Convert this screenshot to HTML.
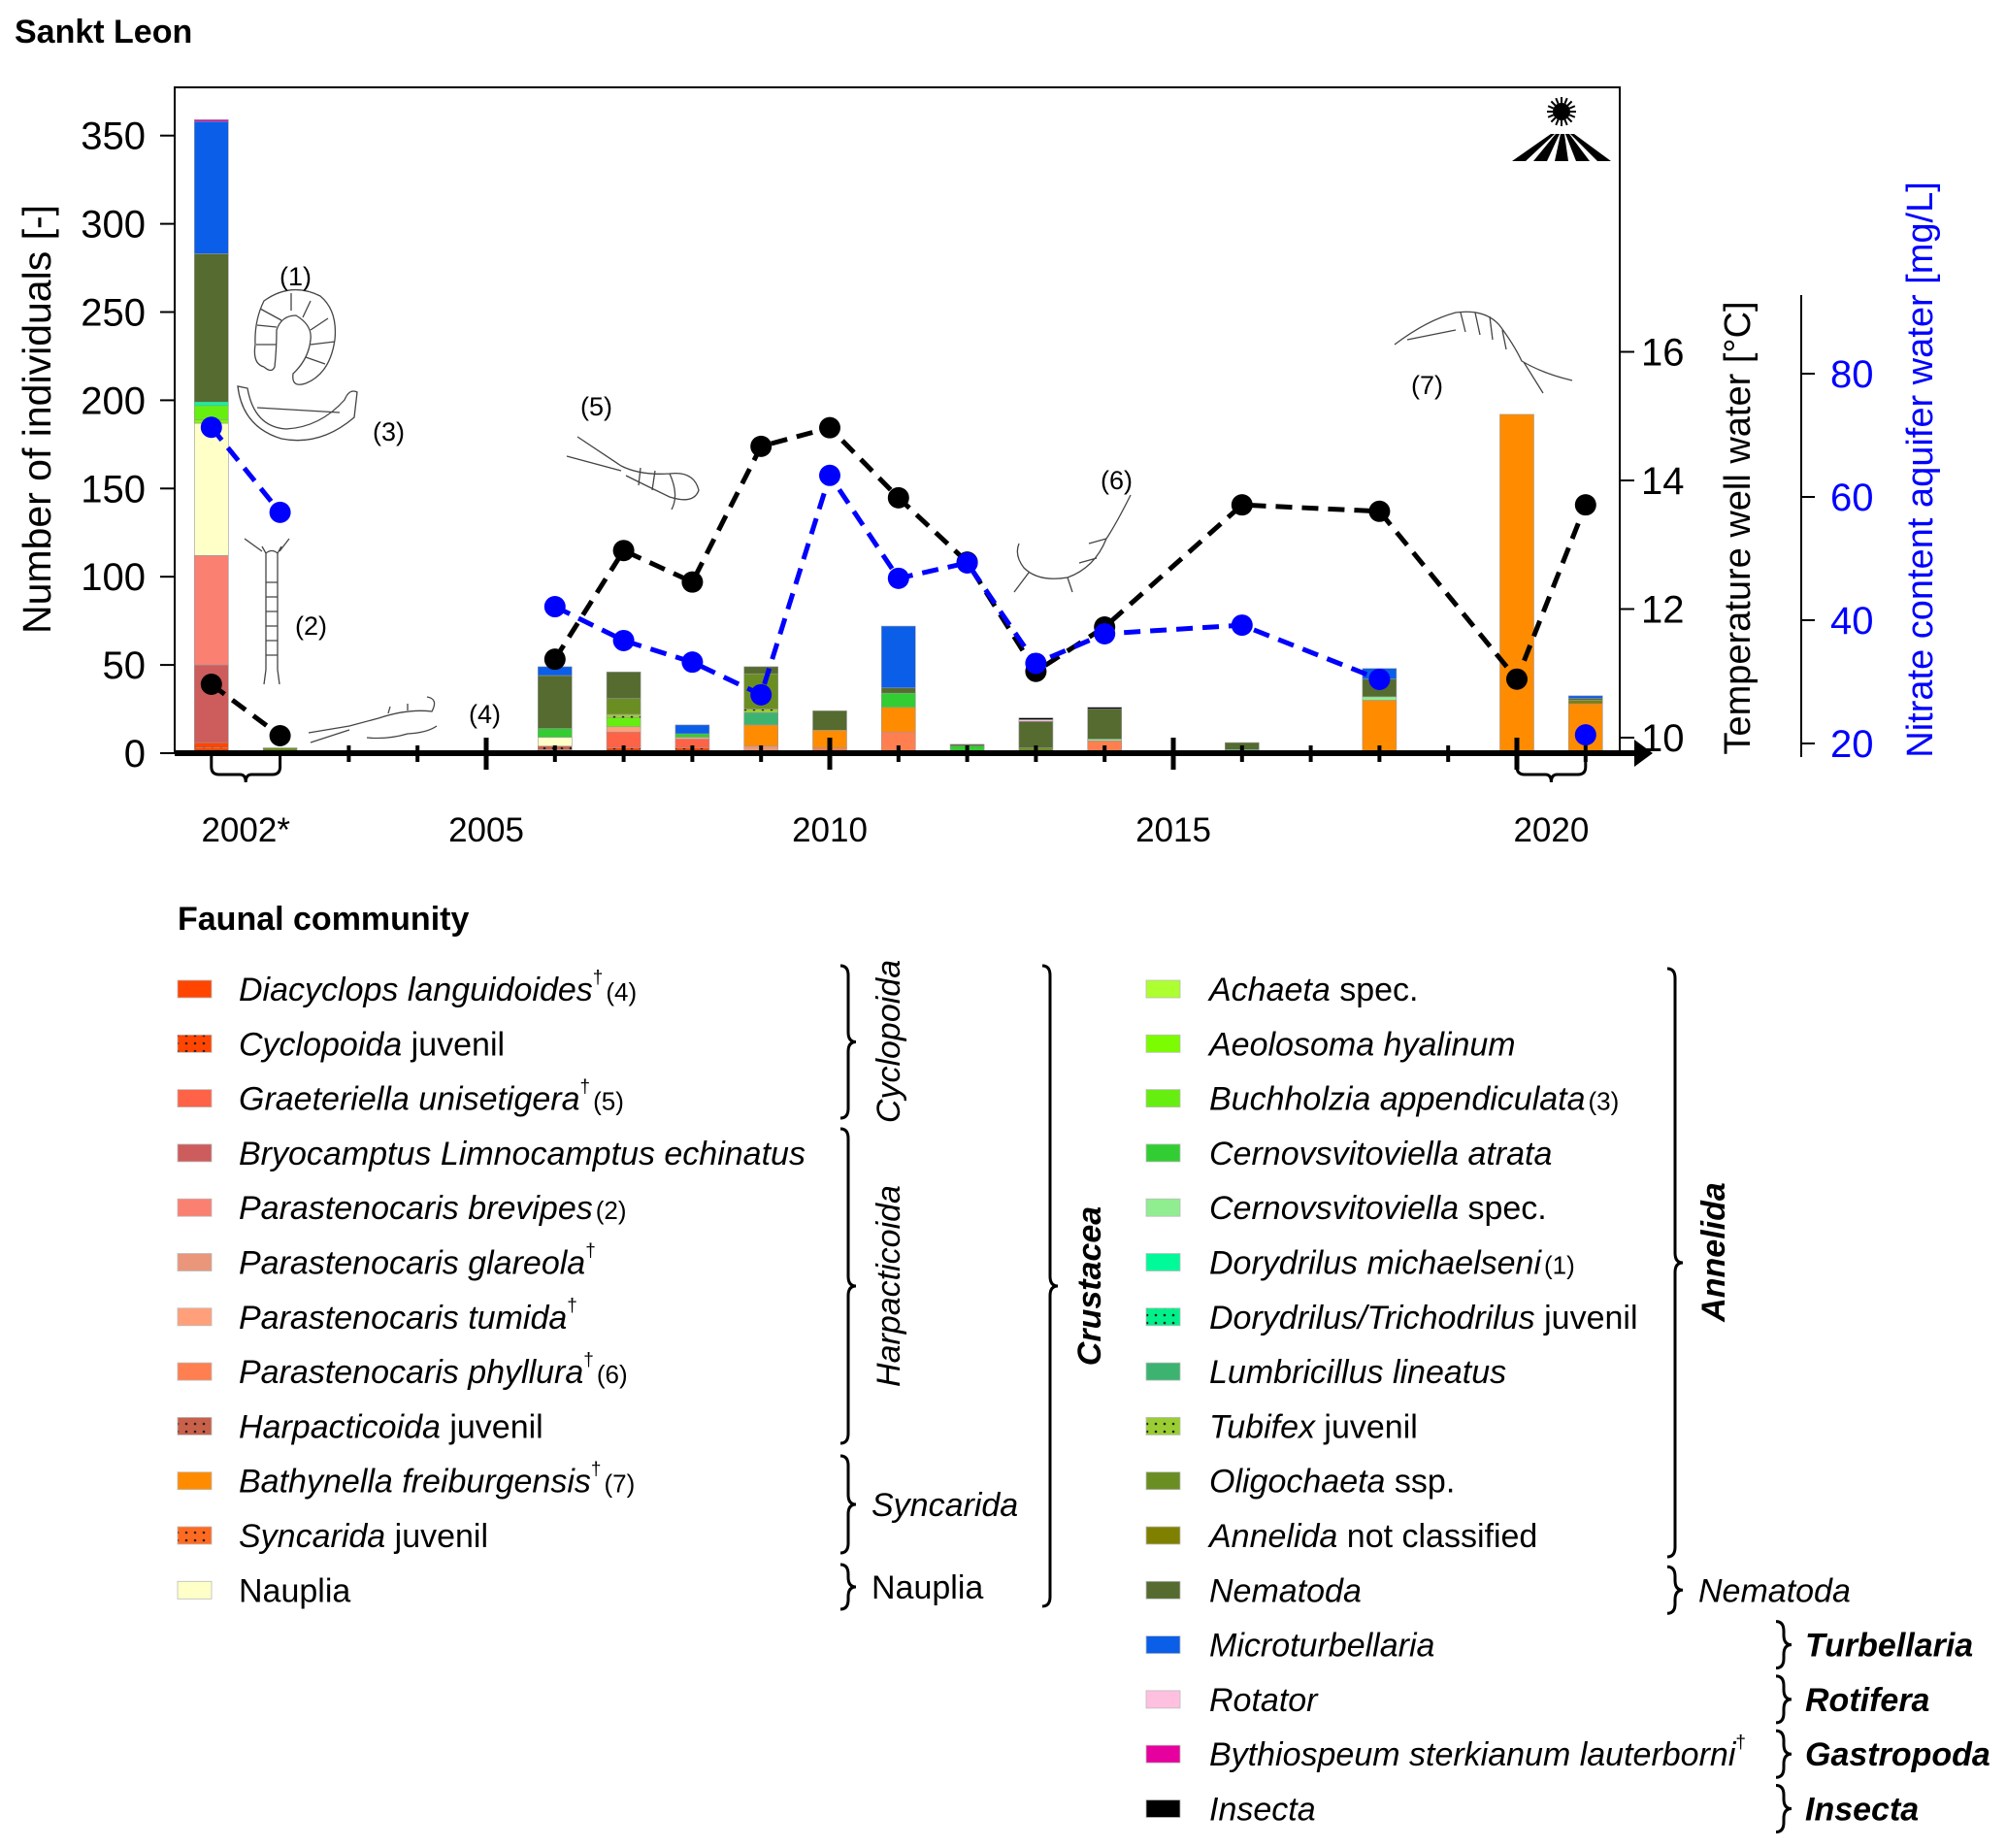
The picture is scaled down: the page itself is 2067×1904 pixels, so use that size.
<!DOCTYPE html>
<html><head><meta charset="utf-8"><style>
html,body{margin:0;padding:0;background:#fff;}
svg{display:block;font-family:"Liberation Sans",Arial,sans-serif;}
</style></head><body>
<svg id="chart" xmlns="http://www.w3.org/2000/svg" width="2067" height="1904" viewBox="0 0 2067 1904">
<defs>
<pattern id="dotRed" width="9" height="8" patternUnits="userSpaceOnUse"><rect width="9" height="8" fill="#ff4500"/><circle cx="3" cy="3" r="1.3" fill="#222"/></pattern>
<pattern id="dotHarp" width="9" height="8" patternUnits="userSpaceOnUse"><rect width="9" height="8" fill="#c8604a"/><circle cx="3" cy="3" r="1.3" fill="#222"/></pattern>
<pattern id="dotSync" width="9" height="8" patternUnits="userSpaceOnUse"><rect width="9" height="8" fill="#ff6a20"/><circle cx="3" cy="3" r="1.3" fill="#222"/></pattern>
<pattern id="dotDory" width="9" height="8" patternUnits="userSpaceOnUse"><rect width="9" height="8" fill="#00f08a"/><circle cx="3" cy="3" r="1.3" fill="#222"/></pattern>
<pattern id="dotTubi" width="9" height="8" patternUnits="userSpaceOnUse"><rect width="9" height="8" fill="#9acd32"/><circle cx="3" cy="3" r="1.3" fill="#222"/></pattern>
</defs>
<text x="15" y="44" font-size="34" font-weight="bold">Sankt Leon</text>
<g id="plot"></g>
<g id="legend"></g>
</svg>
<script>
// ---- data ----
const years = [2001, 2002, 2006, 2007, 2008, 2009, 2010, 2011, 2012, 2013, 2014, 2016, 2018, 2020, 2021];
const temperature = [10.83, 10.03, 11.22, 12.91, 12.42, 14.53, 14.82, 13.73, 12.73, 11.03, 11.72, 13.62, 13.52, 10.91, 13.62];
const nitrate = [71.3, 57.5, 42.2, 36.7, 33.2, 27.9, 63.5, 46.8, 49.3, 33.0, 37.8, 39.2, 30.4, null, 21.4];
const yTicks = [0, 50, 100, 150, 200, 250, 300, 350];
const tempTicks = [10, 12, 14, 16];
const nitrateTicks = [20, 40, 60, 80];
const xLabels = ["2002*", "2005", "2010", "2015", "2020"];
const xLabelYears = [2001.5, 2005, 2010, 2015, 2020.5];

const diacyclops   = [3,0,0,0,0,0,0,0,0,0,0,0,0,0,0];
const cyclopoidaJuv= [3,0,0,3,3,0,0,0,0,0,0,0,0,0,0];
const graeteriella = [0,0,0,9,5,0,0,0,0,0,0,0,0,0,0];
const bryocamptus  = [44,0,0,0,0,0,0,0,0,0,0,0,0,0,0];
const brevipes     = [62,0,0,0,0,0,0,0,0,0,0,0,0,0,0];
const glareola     = [0,1,2,0,0,4,0,0,0,0,0,0,0,0,0];
const tumida       = [0,0,0,3,1,0,0,0,0,0,0,0,0,0,0];
const phyllura     = [0,0,0,0,0,0,3,12,0,0,7,0,0,0,0];
const harpJuv      = [0,0,2,0,0,0,0,0,0,0,0,0,0,0,0];
const bathynella   = [0,0,0,0,0,12,10,14,0,1,0,0,30,192,28];
const syncaridaJuv = [0,0,0,0,0,0,0,0,0,0,0,0,0,0,0];
const nauplia      = [75,0,5,0,0,0,0,0,0,0,0,0,0,0,0];
const achaeta      = [0,0,0,0,0,0,0,0,0,0,0,0,0,0,0];
const aeolosoma    = [2,0,0,0,0,0,0,0,0,0,0,0,0,0,0];
const buchholzia   = [8,0,0,5,0,0,0,0,0,0,0,0,0,0,0];
const cernAtrata   = [0,0,5,0,2,0,0,8,4,0,0,0,0,0,0];
const cernSpec     = [0,0,0,0,0,0,0,0,0,0,1,1,2,0,0];
const doryMich     = [2,0,0,0,0,0,0,0,0,0,0,0,0,0,0];
const doryJuv      = [0,0,0,0,0,0,0,0,0,0,0,1,0,0,0];
const lumbricillus = [0,0,0,0,0,7,0,0,0,0,0,0,0,0,0];
const tubifex      = [0,0,0,2,0,2,0,0,0,0,0,0,0,0,0];
const oligochaeta  = [0,2,0,9,0,20,0,0,0,2,0,0,0,0,0];
const annelidaNC   = [0,0,0,0,0,0,0,0,0,0,0,0,0,0,2];
const nematoda     = [84,0,30,15,0,4,11,3,1,15,17,4,10,0,1];
const microturb    = [75,0,5,0,5,0,0,35,0,0,0,0,6,0,1.5];
const rotator      = [0,0,0,0,0,0,0,0,0,1,0,0,0,0,0];
const bythiospeum  = [1,0,0,0,0,0,0,0,0,0,0,0,0,0,0];
const insecta      = [0,0,0,0,0,0,0,0,0,1,1,0,0,0,0];

const seriesValues = [diacyclops,cyclopoidaJuv,graeteriella,bryocamptus,brevipes,glareola,tumida,phyllura,harpJuv,bathynella,syncaridaJuv,nauplia,achaeta,aeolosoma,buchholzia,cernAtrata,cernSpec,doryMich,doryJuv,lumbricillus,tubifex,oligochaeta,annelidaNC,nematoda,microturb,rotator,bythiospeum,insecta];
const seriesKeys = ["diacyclops","cyclopoida-juvenil","graeteriella","bryocamptus","parastenocaris-brevipes","parastenocaris-glareola","parastenocaris-tumida","parastenocaris-phyllura","harpacticoida-juvenil","bathynella","syncarida-juvenil","nauplia","achaeta","aeolosoma","buchholzia","cernovsvitoviella-atrata","cernovsvitoviella-spec","dorydrilus-michaelseni","dorydrilus-juvenil","lumbricillus","tubifex-juvenil","oligochaeta","annelida-nc","nematoda","microturbellaria","rotator","bythiospeum","insecta"];
const seriesFills = ["#ff4500","url(#dotRed)","#ff6347","#cd5c5c","#fa8072","#e9967a","#ffa07a","#ff7f50","url(#dotHarp)","#ff8c00","url(#dotSync)","#ffffc8","#adff2f","#7cfc00","#66ee11","#32cd32","#90ee90","#00fa9a","url(#dotDory)","#3cb371","url(#dotTubi)","#6b8e23","#808000","#556b2f","#0a5ee8","#ffc0e0","#e6009e","#000000"];

// ---- helpers ----
const NS = "http://www.w3.org/2000/svg";
function mk(tag, attrs, parent){ const e=document.createElementNS(NS,tag); for(const k in attrs) e.setAttribute(k,attrs[k]); parent.appendChild(e); return e; }
const plot = document.getElementById('plot');
const legend = document.getElementById('legend');
const X0=180, X1=1669, BASE=776;
function xs(yr){ return 501 + (yr-2005)*70.8; }
function yc(v){ return BASE - v*1.818; }
function yt(t){ return 760 - (t-10)*66.25; }
function yn(n){ return 766 - (n-20)*6.35; }

let e;
e = mk('rect',{x:X0,y:90,width:X1-X0,height:BASE-90,fill:'none',stroke:'#000','stroke-width':2},plot);



// bars
years.forEach((yr,i)=>{
  let cum=0;
  const g = mk('g',{},plot);
  
  
  seriesValues.forEach((arr,s)=>{
    const v=arr[i]; if(!v) return;
    const r = mk('rect',{x:xs(yr)-17.5,y:yc(cum+v),width:35,height:yc(cum)-yc(cum+v),fill:seriesFills[s],stroke:'#999','stroke-width':0.6},g);
    
    
    cum+=v;
  });
});

// y-axis left
yTicks.forEach(t=>{
  e = mk('line',{x1:165,x2:X0,y1:yc(t),y2:yc(t),stroke:'#000','stroke-width':2},plot);
  
  
  e = mk('text',{x:150,y:yc(t)+14,'font-size':40,'text-anchor':'end'},plot);
  e.textContent=t;
  
  
});
e = mk('text',{x:0,y:0,'font-size':41,'text-anchor':'middle',transform:'translate(52,432) rotate(-90)'},plot);
e.textContent='Number of individuals [-]';



// temperature axis
tempTicks.forEach(t=>{
  e = mk('line',{x1:X1,x2:X1+15,y1:yt(t),y2:yt(t),stroke:'#000','stroke-width':2},plot);
  
  
  e = mk('text',{x:X1+22,y:yt(t)+14,'font-size':40},plot);
  e.textContent=t;
  
  
});
e = mk('text',{x:0,y:0,'font-size':38,'text-anchor':'middle',transform:'translate(1803,544) rotate(-90)'},plot);
e.textContent='Temperature well water [°C]';



// nitrate axis
e = mk('line',{x1:1856,x2:1856,y1:304,y2:780,stroke:'#000','stroke-width':2},plot);


nitrateTicks.forEach(t=>{
  e = mk('line',{x1:1856,x2:1870,y1:yn(t),y2:yn(t),stroke:'#000','stroke-width':2},plot);
  
  
  e = mk('text',{x:1886,y:yn(t)+14,'font-size':40,fill:'#0000ff'},plot);
  e.textContent=t;
  
  
});
e = mk('text',{x:0,y:0,'font-size':38,'text-anchor':'middle',fill:'#0000ff',transform:'translate(1991,484) rotate(-90)'},plot);
e.textContent='Nitrate content aquifer water [mg/L]';



// x-axis
e = mk('line',{x1:X0,x2:1688,y1:BASE,y2:BASE,stroke:'#000','stroke-width':6},plot);


e = mk('path',{d:'M1684 762 L1703 776 L1684 790 Z',fill:'#000'},plot);


for(let yr=2003; yr<=2021; yr++){
  const major = yr%5===0;
  e = mk('line',{x1:xs(yr),x2:xs(yr),y1:major?760:768,y2:major?793:785,stroke:'#000','stroke-width':major?5:4},plot);
  
  
}
xLabels.forEach((lb,i)=>{
  e = mk('text',{x:xs(xLabelYears[i]),y:867,'font-size':35,'text-anchor':'middle'},plot);
  e.textContent=lb;
  
  
});
[[2001,2002],[2020,2021]].forEach(p=>{
  const a=xs(p[0]), b=xs(p[1]), m=(a+b)/2;
  e = mk('path',{d:`M${a} 778 L${a} 790 Q${a} 798 ${a+8} 798 L${m-6} 798 Q${m} 798 ${m} 806 Q${m} 798 ${m+6} 798 L${b-8} 798 Q${b} 798 ${b} 790 L${b} 778`,fill:'none',stroke:'#000','stroke-width':3},plot);
  
  
});

// lines: split on missing values and on long sampling gaps
function drawLine(vals, scale, color, key){
  const segs=[]; let cur=[]; let prevYr=null;
  vals.forEach((v,i)=>{
    if(v===null){ if(cur.length) segs.push(cur); cur=[]; prevYr=null; return; }
    if(prevYr!==null && years[i]-prevYr>3){ segs.push(cur); cur=[]; }
    cur.push([xs(years[i]),scale(v)]); prevYr=years[i];
  });
  if(cur.length) segs.push(cur);
  segs.forEach((pts,si)=>{
    if(pts.length<2) return;
    const l = mk('polyline',{points:pts.map(p=>p.join(',')).join(' '),fill:'none',stroke:color,'stroke-width':5,'stroke-dasharray':'17 10'},plot);
    
    
  });
  vals.forEach((v,i)=>{
    if(v===null) return;
    const c = mk('circle',{cx:xs(years[i]),cy:scale(v),r:11,fill:color},plot);
    
    
  });
}
drawLine(temperature, yt, '#000000', 'temperature');
drawLine(nitrate, yn, '#0000ff', 'nitrate');

// sun/field icon
const sun = mk('g',{},plot);


mk('circle',{cx:1609,cy:115,r:9,fill:'#000'},sun);
for(let k=0;k<16;k++){const a=k*Math.PI/8; mk('line',{x1:1609+Math.cos(a)*9,y1:115+Math.sin(a)*9,x2:1609+Math.cos(a)*15,y2:115+Math.sin(a)*15,stroke:'#000','stroke-width':2},sun);}
mk('path',{d:'M1558 166 L1598 138 L1602 138 L1572 166 Z M1580 166 L1603 138 L1607 138 L1594 166 Z M1602 166 L1608 138 L1612 138 L1616 166 Z M1624 166 L1613 138 L1617 138 L1638 166 Z M1646 166 L1618 138 L1622 138 L1660 166 Z',fill:'#000'},sun);

// organism sketches
const sk = {fill:'none',stroke:'#444','stroke-width':1.3};
function sketch(name,d){ const p=mk('path',Object.assign({d:d},sk),plot);   }
sketch('organism-1-sketch','M272 378 Q260 375 263 355 Q262 330 272 310 Q300 290 330 305 Q348 320 345 350 Q340 385 315 395 Q300 400 302 385 Q318 370 320 350 Q322 335 305 325 Q290 325 285 340 Q285 360 283 378 Q280 385 272 378 M265 335 L285 337 M264 355 L285 355 M268 318 L290 330 M300 302 L300 320 M320 310 L312 327 M338 328 L320 340 M345 352 L320 355 M335 375 L315 368');
sketch('organism-3-sketch','M245 398 Q250 440 290 452 Q330 460 365 430 L368 404 Q360 400 355 412 Q330 440 295 442 Q262 440 255 400 Z M265 420 L350 425');
sketch('organism-2-sketch','M270 563 L274 570 L274 690 L272 705 M290 563 L286 570 L286 690 L288 705 M274 570 Q280 565 286 570 M274 600 L286 600 M274 615 L286 615 M274 630 L286 630 M274 645 L286 645 M274 660 L286 660 M274 675 L286 675 M252 555 L270 568 M298 555 L288 568');
sketch('organism-4-sketch','M318 755 L360 748 L390 740 Q420 730 445 733 Q452 720 440 718 M320 765 L360 752 M378 760 Q400 762 420 756 Q440 755 450 748 M400 735 L402 728 M420 732 L420 725');
sketch('organism-5-sketch','M595 450 L640 480 M584 470 L640 485 M640 480 Q660 490 690 488 Q715 485 720 505 Q715 520 690 512 Q665 500 645 490 M690 488 Q700 510 692 525 M660 482 L658 500 M675 485 L672 505');
sketch('organism-6-sketch','M1165 510 Q1150 540 1140 555 Q1128 585 1100 595 Q1070 600 1055 585 Q1045 572 1050 560 M1140 555 L1122 560 M1130 575 L1112 580 M1100 595 L1105 610 M1060 590 L1045 610');
sketch('organism-7-sketch','M1437 355 Q1470 330 1500 322 Q1530 318 1545 335 Q1560 355 1568 372 Q1590 385 1620 392 M1450 350 L1500 340 M1505 322 L1510 342 M1520 322 L1525 345 M1535 326 L1538 350 M1548 340 L1552 360 M1570 373 L1590 405');
[['(1)',288,294],['(3)',384,454],['(2)',304,654],['(4)',483,745],['(5)',598,428],['(6)',1134,504],['(7)',1454,406]].forEach(a=>{
  e = mk('text',{x:a[1],y:a[2],'font-size':27},plot);
  e.textContent=a[0];
  
  
});

// ---- legend ----
e = mk('text',{x:183,y:958,'font-size':34,'font-weight':'bold'},legend);
e.textContent='Faunal community';



const leftEntries = [["Diacyclops languidoides","",1,"(4)"],["Cyclopoida"," juvenil",0,""],["Graeteriella unisetigera","",1,"(5)"],["Bryocamptus Limnocamptus echinatus","",0,""],["Parastenocaris brevipes","",0,"(2)"],["Parastenocaris glareola","",1,""],["Parastenocaris tumida","",1,""],["Parastenocaris phyllura","",1,"(6)"],["Harpacticoida"," juvenil",0,""],["Bathynella freiburgensis","",1,"(7)"],["Syncarida"," juvenil",0,""],["","Nauplia",0,""]];
const rightEntries = [["Achaeta"," spec.",0,""],["Aeolosoma hyalinum","",0,""],["Buchholzia appendiculata","",0,"(3)"],["Cernovsvitoviella atrata","",0,""],["Cernovsvitoviella"," spec.",0,""],["Dorydrilus michaelseni","",0,"(1)"],["Dorydrilus/Trichodrilus"," juvenil",0,""],["Lumbricillus lineatus","",0,""],["Tubifex"," juvenil",0,""],["Oligochaeta"," ssp.",0,""],["Annelida"," not classified",0,""],["Nematoda","",0,""],["Microturbellaria","",0,""],["Rotator","",0,""],["Bythiospeum sterkianum lauterborni","",1,""],["Insecta","",0,""]];
const ROW0=1019, STEP=56.3;
function legendEntry(entry, idx, fill, sx, tx, key){
  const y=ROW0+idx*STEP;
  const g=mk('g',{},legend);
  
  
  mk('rect',{x:sx,y:y-9,width:35,height:18,fill:fill,stroke:'#bbb','stroke-width':0.8},g);
  const t=mk('text',{x:tx,y:y+12,'font-size':34},g);
  if(entry[0]){const a=mk('tspan',{'font-style':'italic'},t); a.textContent=entry[0];}
  if(entry[1]){const b=mk('tspan',{},t); b.textContent=entry[1];}
  if(entry[2]){const c=mk('tspan',{'font-size':19,dy:-18},t); c.textContent='†';}
  if(entry[3]){const d=mk('tspan',{'font-size':26,dy:entry[2]?18:0,dx:3},t); d.textContent=entry[3];}
}
leftEntries.forEach((en,i)=>legendEntry(en,i,seriesFills[i],183,246,seriesKeys[i]));
rightEntries.forEach((en,i)=>legendEntry(en,i,seriesFills[12+i],1181,1246,seriesKeys[12+i]));

function brace(x,y1,y2,name){
  const m=(y1+y2)/2;
  e=mk('path',{d:`M${x} ${y1} Q${x+8} ${y1} ${x+8} ${y1+10} L${x+8} ${m-10} Q${x+8} ${m} ${x+16} ${m} Q${x+8} ${m} ${x+8} ${m+10} L${x+8} ${y2-10} Q${x+8} ${y2} ${x} ${y2}`,fill:'none',stroke:'#000','stroke-width':3},legend);
  
  
}
function groupLabel(txt,x,y,rot,bold,italic,name){
  e=mk('text',{x:0,y:0,'font-size':34,'text-anchor':rot?'middle':'start',transform:`translate(${x},${y})`+(rot?' rotate(-90)':'')},legend);
  if(bold) e.setAttribute('font-weight','bold');
  if(italic) e.setAttribute('font-style','italic');
  e.textContent=txt;
  
  
}
function rowY(i){ return ROW0+i*STEP; }
brace(866,995,1152,'brace-cyclopoida'); groupLabel('Cyclopoida',927,1073,true,false,true,'group-label-cyclopoida');
brace(866,1163,1487,'brace-harpacticoida'); groupLabel('Harpacticoida',927,1325,true,false,true,'group-label-harpacticoida');
brace(866,1500,1600,'brace-syncarida'); groupLabel('Syncarida',898,1562,false,false,true,'group-label-syncarida');
brace(866,1612,1658,'brace-nauplia'); groupLabel('Nauplia',898,1647,false,false,false,'group-label-nauplia');
brace(1074,995,1655,'brace-crustacea'); groupLabel('Crustacea',1134,1325,true,true,true,'group-label-crustacea');
brace(1718,998,rowY(10)+22,'brace-annelida'); groupLabel('Annelida',1777,1290,true,true,true,'group-label-annelida');
brace(1718,rowY(11)-24,rowY(11)+24,'brace-nematoda'); groupLabel('Nematoda',1750,rowY(11)+12,false,false,true,'group-label-nematoda');
const smallGroups=[['Turbellaria',12],['Rotifera',13],['Gastropoda',14],['Insecta',15]];
smallGroups.forEach(sg=>{
  brace(1830,rowY(sg[1])-24,rowY(sg[1])+24,'brace-'+sg[0].toLowerCase());
  groupLabel(sg[0],1860,rowY(sg[1])+12,false,true,true,'group-label-'+sg[0].toLowerCase());
});
</script>
</body></html>
